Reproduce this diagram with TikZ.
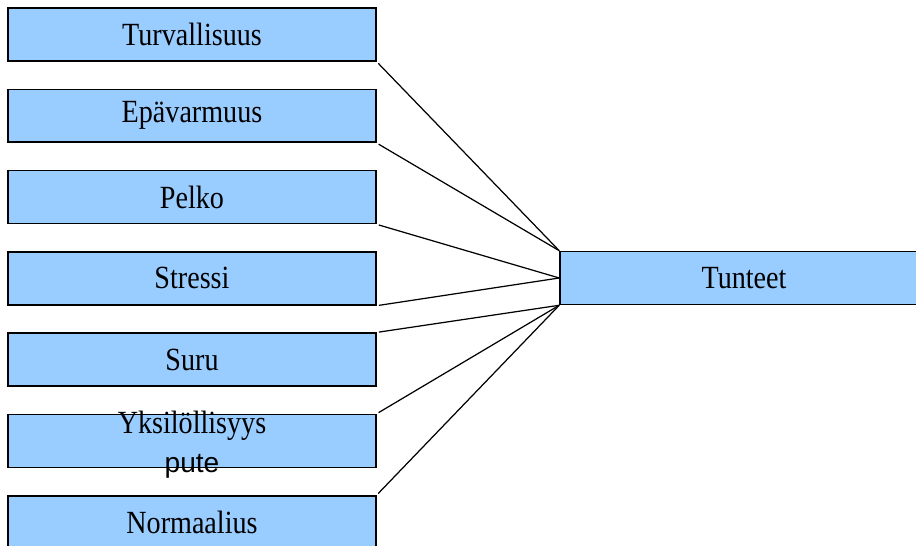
\documentclass[tikz,border=0pt]{standalone}
\usepackage{fontspec}
\setmainfont[FakeStretch=0.87]{Liberation Serif}
\setsansfont{Liberation Sans}
\definecolor{vaaleansininen}{HTML}{99CCFF}
\begin{document}
\begin{tikzpicture}[x=0.02cm,y=-0.02cm,
    laatikko/.style={draw=black,line width=0.9pt,fill=vaaleansininen,
      minimum width=7.36cm,minimum height=1.06cm,inner sep=0pt,
      font=\fontsize{18.4}{21}\selectfont},
    yhteys/.style={line width=0.7pt,shorten <=1.2pt}]
  \clip (0,0) rectangle (916,546);
  % vasemmat laatikot
  \node[laatikko] (turv) at (192,34.5) {Turvallisuus};
  \node[laatikko] (epav) at (192,115.8) {Epävarmuus};
  \node[laatikko] (pelko) at (192,197.1) {Pelko};
  \node[laatikko] (stressi) at (192,278.4) {Stressi};
  \node[laatikko] (suru) at (192,359.7) {Suru};
  \node[laatikko] (yks) at (192,441) {};
  \node[align=center,inner sep=0pt,font=\fontsize{18.4}{22}\selectfont] (ykst) at (192,445) {Yksilöllisyys\\{\sffamily\fontsize{16}{22}\selectfont pute}};
  \node[laatikko] (norm) at (192,522.3) {Normaalius};
  % oikea laatikko
  \node[laatikko] (tunteet) at (744,278) {Tunteet};
  % yhteydet
  \draw[yhteys] (turv.south east) -- (tunteet.north west);
  \draw[yhteys] (epav.south east) -- (tunteet.north west);
  \draw[yhteys] (pelko.south east) -- (tunteet.west);
  \draw[yhteys] (stressi.south east) -- (tunteet.west);
  \draw[yhteys] (suru.north east) -- (tunteet.south west);
  \draw[yhteys] (yks.north east) -- (tunteet.south west);
  \draw[yhteys] (norm.north east) -- (tunteet.south west);
\end{tikzpicture}
\end{document}
